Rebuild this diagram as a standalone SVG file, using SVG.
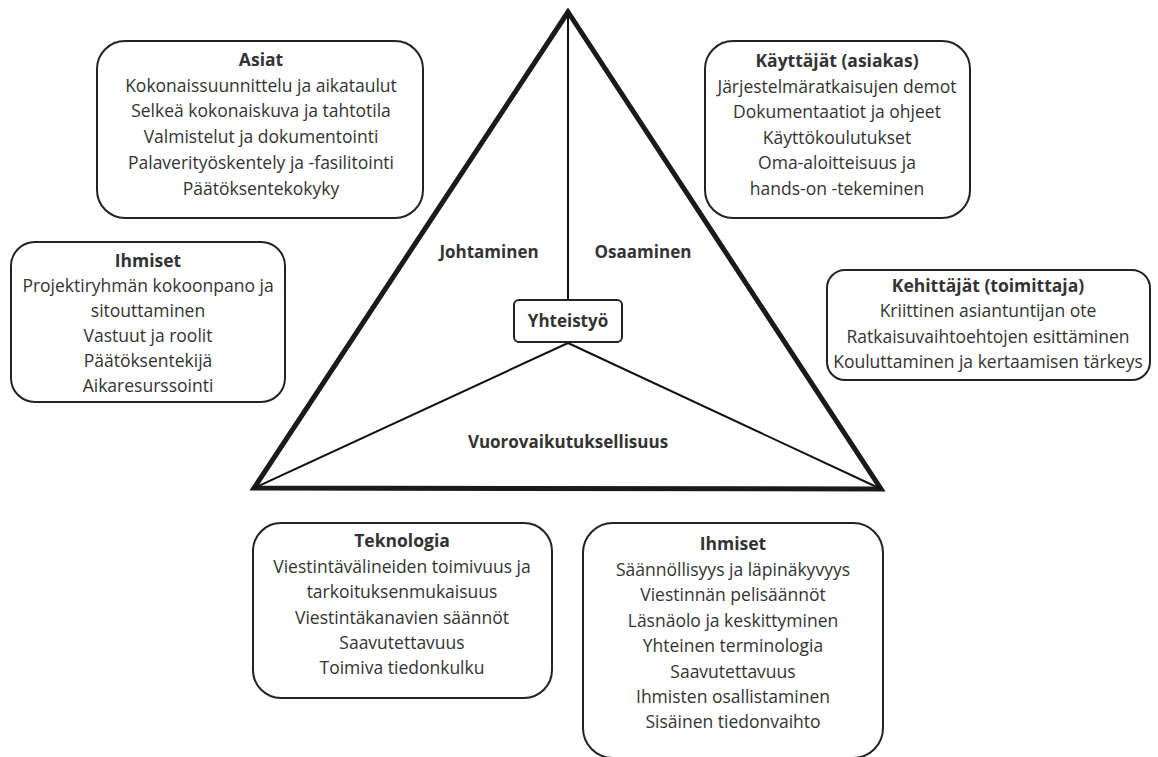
<svg xmlns="http://www.w3.org/2000/svg" width="1158" height="757" viewBox="0 0 1158 757">
<style>
.box{fill:#fff;stroke:#222;stroke-width:2}
text{font-family:"Open Sans","Noto Sans","Liberation Sans",sans-serif;font-size:17.5px;fill:#333;text-anchor:middle}
.t{font-weight:bold}
.lbl{font-weight:bold;font-size:17px}
</style>
<rect width="1158" height="757" fill="#fff"/>
<g id="connectors">
<polygon points="568,12 254,488 881,489" fill="none" stroke="#1a1a1a" stroke-width="5" stroke-linejoin="miter"/>
<line x1="568" y1="12" x2="568" y2="300" stroke="#111" stroke-width="2"/>
<line x1="568" y1="343" x2="254" y2="488" stroke="#111" stroke-width="2"/>
<line x1="568" y1="343" x2="881" y2="489" stroke="#111" stroke-width="2"/>
</g>
<g id="labels">
<text class="lbl" x="489" y="258">Johtaminen</text>
<text class="lbl" x="643" y="258">Osaaminen</text>
<text class="lbl" x="568" y="448">Vuorovaikutuksellisuus</text>
</g>
<g id="yhteistyo">
<rect class="box" x="514" y="300" width="108" height="42" rx="5"/>
<text class="lbl" x="568" y="327">Yhteistyö</text>
</g>
<g id="asiat">
<rect class="box" x="97" y="41" width="326" height="177" rx="28"/>
<text class="t" x="261" y="66">Asiat</text>
<text x="261" y="92">Kokonaissuunnittelu ja aikataulut</text>
<text x="261" y="117">Selkeä kokonaiskuva ja tahtotila</text>
<text x="261" y="143">Valmistelut ja dokumentointi</text>
<text x="261" y="169">Palaverityöskentely ja -fasilitointi</text>
<text x="261" y="195">Päätöksentekokyky</text>
</g>
<g id="kayttajat">
<rect class="box" x="705" y="41" width="265" height="177" rx="28"/>
<text class="t" x="837" y="67">Käyttäjät (asiakas)</text>
<text x="837" y="93">Järjestelmäratkaisujen demot</text>
<text x="837" y="118">Dokumentaatiot ja ohjeet</text>
<text x="837" y="144">Käyttökoulutukset</text>
<text x="837" y="169">Oma-aloitteisuus ja</text>
<text x="837" y="195">hands-on -tekeminen</text>
</g>
<g id="ihmiset-left">
<rect class="box" x="11" y="242" width="274" height="160" rx="24"/>
<text class="t" x="148" y="267">Ihmiset</text>
<text x="148" y="292">Projektiryhmän kokoonpano ja</text>
<text x="148" y="317">sitouttaminen</text>
<text x="148" y="342">Vastuut ja roolit</text>
<text x="148" y="367">Päätöksentekijä</text>
<text x="148" y="392">Aikaresurssointi</text>
</g>
<g id="kehittajat">
<rect class="box" x="827" y="270" width="323" height="110" rx="18"/>
<text class="t" x="988" y="292">Kehittäjät (toimittaja)</text>
<text x="988" y="317">Kriittinen asiantuntijan ote</text>
<text x="988" y="343">Ratkaisuvaihtoehtojen esittäminen</text>
<text x="988" y="368">Kouluttaminen ja kertaamisen tärkeys</text>
</g>
<g id="teknologia">
<rect class="box" x="253" y="523" width="299" height="175" rx="28"/>
<text class="t" x="402" y="547">Teknologia</text>
<text x="402" y="573">Viestintävälineiden toimivuus ja</text>
<text x="402" y="598">tarkoituksenmukaisuus</text>
<text x="402" y="624">Viestintäkanavien säännöt</text>
<text x="402" y="649">Saavutettavuus</text>
<text x="402" y="674">Toimiva tiedonkulku</text>
</g>
<g id="ihmiset-bottom">
<rect class="box" x="583" y="523" width="300" height="235" rx="30"/>
<text class="t" x="733" y="550">Ihmiset</text>
<text x="733" y="576">Säännöllisyys ja läpinäkyvyys</text>
<text x="733" y="601">Viestinnän pelisäännöt</text>
<text x="733" y="627">Läsnäolo ja keskittyminen</text>
<text x="733" y="652">Yhteinen terminologia</text>
<text x="733" y="678">Saavutettavuus</text>
<text x="733" y="703">Ihmisten osallistaminen</text>
<text x="733" y="728">Sisäinen tiedonvaihto</text>
</g>
</svg>
